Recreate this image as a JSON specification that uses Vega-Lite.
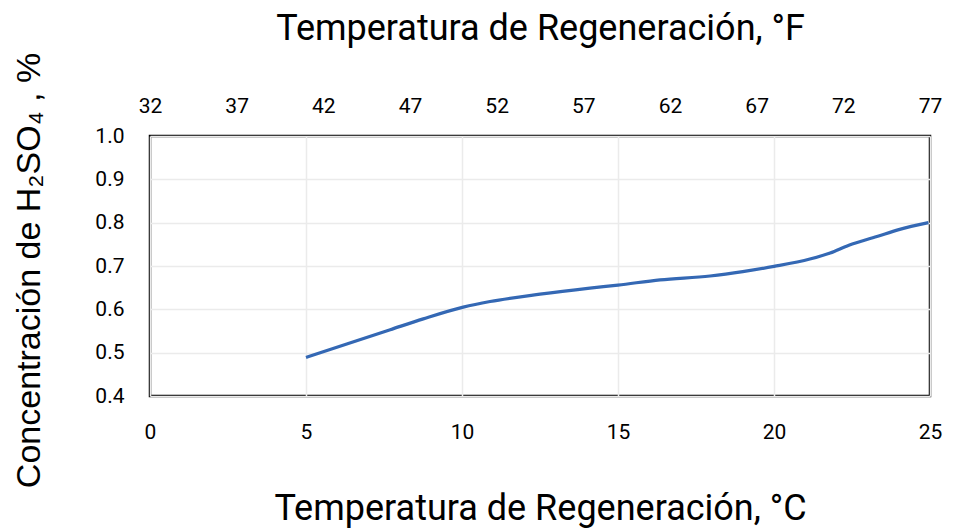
{
  "$schema": "https://vega.github.io/schema/vega-lite/v6.json",
  "width": 780,
  "height": 260,
  "autosize": {"type": "none"},
  "padding": {"left": 150, "top": 136, "right": 24, "bottom": 136},
  "background": "white",
  "config": {
    "view": {"stroke": "black", "strokeWidth": 2.5},
    "font": "Roboto",
    "axis": {
      "labelFont": "Roboto",
      "labelFontSize": 21,
      "labelColor": "black",
      "labelFlush": false,
      "labelOverlap": false,
      "titleFont": "Roboto",
      "titleFontSize": 36,
      "titleFontWeight": "normal",
      "titleColor": "black",
      "domain": false,
      "ticks": false,
      "tickSize": 0,
      "gridColor": "#ebebeb",
      "gridWidth": 1.5
    }
  },
  "data": {
    "values": [
      {"tempC": 5.0, "tempF": 41.0, "conc": 0.489},
      {"tempC": 6.6, "tempF": 43.9, "conc": 0.527},
      {"tempC": 7.7, "tempF": 45.9, "conc": 0.553},
      {"tempC": 8.76, "tempF": 47.8, "conc": 0.578},
      {"tempC": 10.04, "tempF": 50.1, "conc": 0.605},
      {"tempC": 10.9, "tempF": 51.6, "conc": 0.618},
      {"tempC": 12.5, "tempF": 54.5, "conc": 0.635},
      {"tempC": 14.1, "tempF": 57.4, "conc": 0.649},
      {"tempC": 15.0, "tempF": 59.0, "conc": 0.656},
      {"tempC": 16.35, "tempF": 61.4, "conc": 0.668},
      {"tempC": 17.95, "tempF": 64.3, "conc": 0.677},
      {"tempC": 19.0, "tempF": 66.2, "conc": 0.687},
      {"tempC": 20.0, "tempF": 68.0, "conc": 0.699},
      {"tempC": 21.15, "tempF": 70.1, "conc": 0.716},
      {"tempC": 21.8, "tempF": 71.2, "conc": 0.730},
      {"tempC": 22.4, "tempF": 72.3, "conc": 0.748},
      {"tempC": 23.3, "tempF": 73.9, "conc": 0.768},
      {"tempC": 24.0, "tempF": 75.2, "conc": 0.784},
      {"tempC": 24.95, "tempF": 76.9, "conc": 0.800}
    ]
  },
  "encoding": {
    "y": {
      "field": "conc",
      "type": "quantitative",
      "scale": {"domain": [0.4, 1.0], "nice": false, "zero": false},
      "axis": {
        "values": [0.4, 0.5, 0.6, 0.7, 0.8, 0.9, 1.0],
        "format": ".1f",
        "labelPadding": 26,
        "title": "Concentración de H₂SO₄ , %",
        "titleFont": "Liberation Sans",
        "titleFontSize": 34,
        "titleX": -111,
        "titleY": 134,
        "titleBaseline": "alphabetic",
        "grid": true
      }
    }
  },
  "layer": [
    {
      "mark": {"type": "line", "color": "#3468b4", "strokeWidth": 3.2, "interpolate": "monotone"},
      "encoding": {
        "x": {
          "field": "tempC",
          "type": "quantitative",
          "scale": {"domain": [0, 25], "nice": false, "zero": false},
          "axis": {
            "orient": "bottom",
            "values": [0, 5, 10, 15, 20, 25],
            "labelPadding": 25,
            "title": "Temperatura de Regeneración, °C",
            "titleY": 123,
            "titleBaseline": "alphabetic",
            "grid": true
          }
        }
      }
    },
    {
      "mark": {"type": "line", "opacity": 0},
      "encoding": {
        "x": {
          "field": "tempF",
          "type": "quantitative",
          "scale": {"domain": [32, 77], "nice": false, "zero": false},
          "axis": {
            "orient": "top",
            "values": [32, 37, 42, 47, 52, 57, 62, 67, 72, 77],
            "labelPadding": 20,
            "title": "Temperatura de Regeneración, °F",
            "titleY": -97,
            "titleBaseline": "alphabetic",
            "grid": false
          }
        }
      }
    }
  ],
  "resolve": {"scale": {"x": "independent"}}
}
